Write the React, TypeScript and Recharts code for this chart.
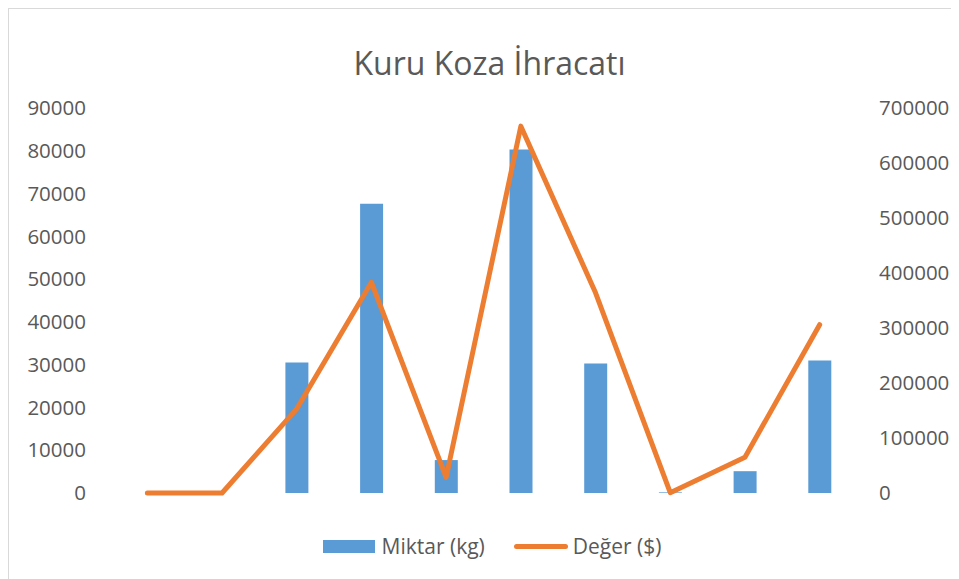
import React from 'react';
import { Bar, ComposedChart, Legend, Line, XAxis, YAxis } from 'recharts';

const categories = ['1', '2', '3', '4', '5', '6', '7', '8', '9', '10'];
const miktar = [0, 0, 30500, 67600, 7700, 80300, 30300, 150, 5100, 31000];
const deger = [0, 0, 153000, 383000, 28500, 667000, 364000, 500, 65000, 306000];
const leftTicks = [0, 10000, 20000, 30000, 40000, 50000, 60000, 70000, 80000, 90000];
const rightTicks = [0, 100000, 200000, 300000, 400000, 500000, 600000, 700000];

const data = categories.map((c, i) => ({ name: c, miktar: miktar[i], deger: deger[i] }));

const FONT = '"Open Sans", sans-serif';
const TEXT = '#595959';
const BLUE = '#5B9BD5';
const ORANGE = '#ED7D31';

const ChartLegend = () => (
  <div
    style={{
      display: 'flex',
      justifyContent: 'center',
      alignItems: 'center',
      fontFamily: FONT,
      fontSize: 21,
      color: TEXT,
      lineHeight: '24px',
    }}
  >
    <span style={{ width: 52, height: 13, background: BLUE, marginRight: 7 }} />
    <span>Miktar (kg)</span>
    <span
      style={{
        width: 54,
        height: 5,
        borderRadius: 3,
        background: ORANGE,
        marginLeft: 29,
        marginRight: 5,
      }}
    />
    <span>Değer ($)</span>
  </div>
);

const App = () => {
  return (
    <div
      style={{
        position: 'relative',
        width: 950,
        height: 570,
        borderLeft: '1px solid #d9d9d9',
        borderTop: '1px solid #d9d9d9',
        background: '#fff',
      }}
    >
      <div
        style={{
          position: 'absolute',
          left: 0,
          top: 32,
          width: 961,
          textAlign: 'center',
          fontFamily: FONT,
          fontSize: 32,
          color: TEXT,
          lineHeight: 'normal',
        }}
      >
        Kuru Koza İhracatı
      </div>
      <ComposedChart
        width={950}
        height={570}
        data={data}
        margin={{ top: 99, right: 0, bottom: 86, left: 0 }}
        barCategoryGap={0}
      >
        <XAxis dataKey="name" hide />
        <YAxis
          yAxisId="left"
          orientation="left"
          width={101}
          domain={[0, 90000]}
          ticks={leftTicks}
          interval={0}
          axisLine={false}
          tickLine={false}
          tickSize={0}
          tickMargin={24}
          tick={{ fill: TEXT, fontSize: 20.5, fontFamily: FONT }}
        />
        <YAxis
          yAxisId="right"
          orientation="right"
          width={102}
          domain={[0, 700000]}
          ticks={rightTicks}
          interval={0}
          axisLine={false}
          tickLine={false}
          tickSize={0}
          tickMargin={22}
          tick={{ fill: TEXT, fontSize: 20.5, fontFamily: FONT, textAnchor: 'start' }}
        />
        <Bar
          yAxisId="left"
          dataKey="miktar"
          name="Miktar (kg)"
          fill={BLUE}
          barSize={23}
          isAnimationActive={false}
        />
        <Line
          yAxisId="right"
          dataKey="deger"
          name="Değer ($)"
          stroke={ORANGE}
          strokeWidth={5}
          strokeLinecap="round"
          strokeLinejoin="round"
          dot={false}
          activeDot={false}
          type="linear"
          isAnimationActive={false}
        />
        <Legend
          verticalAlign="middle"
          layout="horizontal"
          content={() => <ChartLegend />}
          wrapperStyle={{ top: 525, left: 8, width: 950, height: 24 }}
        />
      </ComposedChart>
    </div>
  );
};

export default App;
